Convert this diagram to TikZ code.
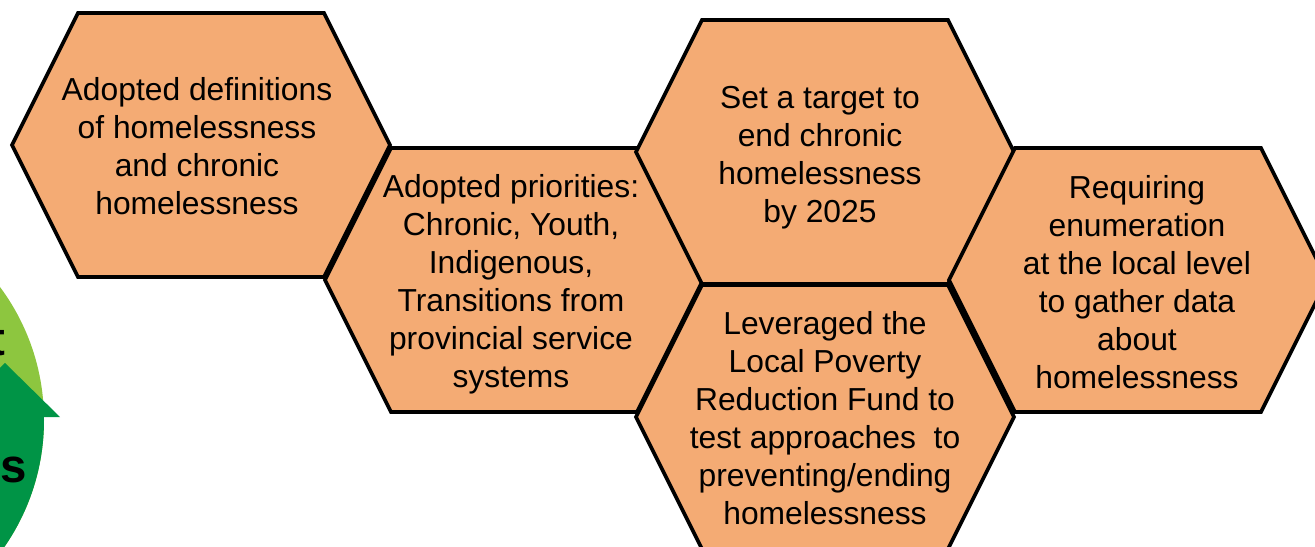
\documentclass[tikz,border=0pt]{standalone}
\usepackage{fontspec}
\setmainfont{Liberation Sans}
\usetikzlibrary{calc}

\definecolor{peach}{RGB}{244,171,116}
\definecolor{leafgreen}{RGB}{141,198,63}
\definecolor{deepgreen}{RGB}{0,148,70}

\tikzset{
  hexface/.style={fill=peach,draw=black,line width=2.1pt},
  hextext/.style={align=center,inner sep=0pt,font=\fontsize{18.1}{21.6}\selectfont},
  cycletext/.style={inner sep=0pt,font=\fontsize{27}{32}\selectfont\bfseries},
  pics/hexcell/.style={code={
    \filldraw[hexface] (-189,0)--(-123,-132)--(123,-132)--(189,0)--(123,132)--(-123,132)--cycle;}}
}

\begin{document}
\begin{tikzpicture}[x=0.02cm,y=-0.02cm]
  \useasboundingbox (0,0) rectangle (1315,547);
  \clip (0,0) rectangle (1315,547);

  % Coordinates
  \coordinate (H1) at (201,145);
  \coordinate (H2) at (514,280);
  \coordinate (H3) at (825,152);
  \coordinate (H4) at (825,417);
  \coordinate (H5) at (1138,280);

  % Cycle arrows on the left
  \fill[leafgreen] (-179,420) circle (223);
  \begin{scope}
    \clip (-179,420) circle (223);
    \fill[deepgreen] (-300,417) rectangle (100,600);
  \end{scope}
  \fill[deepgreen] (5,363)--(60,417)--(-50,417)--cycle;
  \node[cycletext,anchor=base east] (cyc-top) at (6,355) {t};
  \node[cycletext,anchor=base west] (cyc-bot) at (0,482) {s};

  % Hexagons
  \pic at (H1) {hexcell};
  \pic at (H2) {hexcell};
  \pic at (H3) {hexcell};
  \pic at (H4) {hexcell};
  \pic at (H5) {hexcell};

  % Labels
  \node[hextext] (defs) at ($(H1)+(-4,1)$) {Adopted definitions\\of homelessness\\and chronic\\homelessness};
  \node[hextext] (prio) at ($(H2)+(-3,4)$) {Adopted priorities:\\Chronic, Youth,\\Indigenous,\\Transitions from\\provincial service\\systems};
  \node[hextext] (target) at ($(H3)+(-5,6)$) {Set a target to\\end chronic\\homelessness\\by 2025};
  \node[hextext] (fund) at ($(H4)+(0,1)$) {Leveraged the\\Local Poverty\\Reduction Fund to\\test approaches~ to\\preventing/ending\\homelessness};
  \node[hextext] (count) at ($(H5)+(-1,2)$) {Requiring\\enumeration\\at the local level\\to gather data\\about\\homelessness};
\end{tikzpicture}
\end{document}
